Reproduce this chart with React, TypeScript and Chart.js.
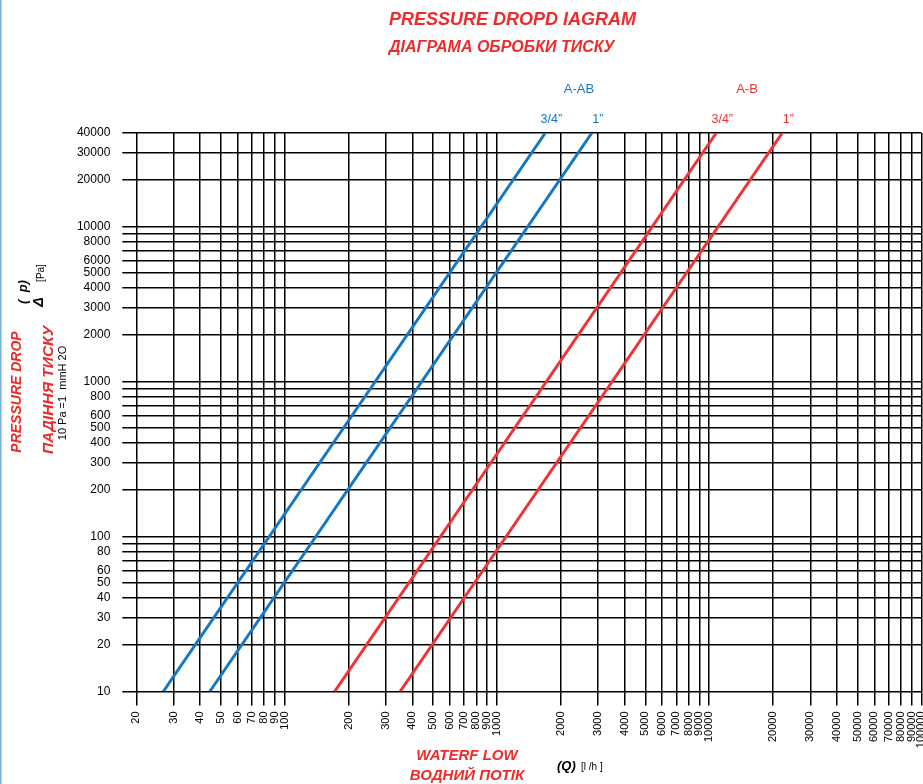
import { useEffect, useRef } from 'react';
import { Chart, registerables } from 'chart.js';

Chart.register(...registerables);

// ---- data ----
const FLOW_TICKS = [
  20, 30, 40, 50, 60, 70, 80, 90, 100,
  200, 300, 400, 500, 600, 700, 800, 900, 1000,
  2000, 3000, 4000, 5000, 6000, 7000, 8000, 9000, 10000,
  20000, 30000, 40000, 50000, 60000, 70000, 80000, 90000, 100000,
];
const DP_GRID = [
  10, 20, 30, 40, 50, 60, 70, 80, 90,
  100, 200, 300, 400, 500, 600, 700, 800, 900,
  1000, 2000, 3000, 4000, 5000, 6000, 7000, 8000, 9000,
  10000, 20000, 30000, 40000,
];
const DP_LABELS = [
  10, 20, 30, 40, 50, 60, 80,
  100, 200, 300, 400, 500, 600, 800,
  1000, 2000, 3000, 4000, 5000, 6000, 8000,
  10000, 20000, 30000, 40000,
];
const DP_ENDS = [10, 40000];
const AAB_34_Q = [26.8, 1690];
const AAB_1_Q = [44.4, 2800];
const AB_34_Q = [172, 10800];
const AB_1_Q = [350, 22100];
const CURVE_NAMES = ['3/4\u201D', '1\u201D', '3/4\u201D', '1\u201D'];
const GROUP_NAMES = ['A-AB', 'A-B'];

const BLUE = '#1677c2';
const RED = '#ee3434';
const TITLE_RED = '#ee2a2a';
const FONT = '"Liberation Sans", Arial, Helvetica, sans-serif';

function txt(
  ctx: CanvasRenderingContext2D,
  s: string,
  x: number,
  y: number,
  font: string,
  color: string,
  align: CanvasTextAlign = 'center',
  rot = 0
) {
  ctx.save();
  ctx.translate(x, y);
  if (rot) ctx.rotate(rot);
  ctx.font = font;
  ctx.fillStyle = color;
  ctx.textAlign = align;
  ctx.textBaseline = 'middle';
  ctx.fillText(s, 0, 0);
  ctx.restore();
}

const textPlugin = {
  id: 'texts',
  afterDraw(chart: any) {
    const ctx: CanvasRenderingContext2D = chart.ctx;
    const xs = chart.scales.x;
    const R = -Math.PI / 2;
    // left frame line
    ctx.save();
    ctx.fillStyle = '#7fb0e4';
    ctx.fillRect(0, 0, 1.6, chart.height);
    ctx.restore();

    // titles
    txt(ctx, 'PRESSURE DROPD IAGRAM', 389, 20, `italic bold 18px ${FONT}`, TITLE_RED, 'left');
    txt(ctx, 'ДІАГРАМА ОБРОБКИ ТИСКУ', 389, 48, `italic bold 16px ${FONT}`, TITLE_RED, 'left');

    // group labels
    txt(ctx, GROUP_NAMES[0], 579, 89, `13px ${FONT}`, BLUE);
    txt(ctx, GROUP_NAMES[1], 747, 89, `13px ${FONT}`, RED);

    // curve labels at top of each curve
    const tops = [AAB_34_Q[1], AAB_1_Q[1], AB_34_Q[1], AB_1_Q[1]];
    const cols = [BLUE, BLUE, RED, RED];
    tops.forEach((q, i) => {
      txt(ctx, CURVE_NAMES[i], xs.getPixelForValue(q) + 6, 119.5, `12.5px ${FONT}`, cols[i]);
    });

    // y-axis titles (rotated)
    txt(ctx, 'PRESSURE DROP', 17, 392, `italic bold 14px ${FONT}`, TITLE_RED, 'center', R);
    txt(ctx, 'ПАДІННЯ ТИСКУ', 49, 390, `italic bold 15.5px ${FONT}`, TITLE_RED, 'center', R);
    txt(ctx, '10 Pa =1  mmH 2O', 63, 393, `11px ${FONT}`, '#000', 'center', R);
    txt(ctx, 'Δ', 39, 302, `italic bold 14px ${FONT}`, '#000', 'center', R);
    txt(ctx, '(  p)', 23, 292, `italic bold 13px ${FONT}`, '#000', 'center', R);
    txt(ctx, '[Pa]', 41, 273, `10px ${FONT}`, '#000', 'center', R);

    // x-axis titles
    txt(ctx, 'WATERF LOW', 467, 756, `italic bold 15px ${FONT}`, TITLE_RED);
    txt(ctx, 'ВОДНИЙ ПОТІК', 467, 776, `italic bold 15px ${FONT}`, TITLE_RED);
    txt(ctx, '(Q)', 557, 766, `italic bold 13px ${FONT}`, '#000', 'left');
    txt(ctx, '[l /h ]', 581, 767, `10px ${FONT}`, '#000', 'left');
  },
};

function series(qs: number[], color: string) {
  return {
    data: qs.map((q, i) => ({ x: q, y: DP_ENDS[i] })),
    borderColor: color,
    backgroundColor: color,
    borderWidth: 3,
    pointRadius: 0,
    fill: false,
    tension: 0,
  };
}

export default function App() {
  const ref = useRef<HTMLCanvasElement>(null);

  useEffect(() => {
    const chart = new Chart(ref.current as HTMLCanvasElement, {
      type: 'line',
      data: {
        datasets: [
          series(AAB_34_Q, BLUE),
          series(AAB_1_Q, BLUE),
          series(AB_34_Q, RED),
          series(AB_1_Q, RED),
        ] as any,
      },
      options: {
        animation: false,
        responsive: false,
        maintainAspectRatio: false,
        layout: { padding: { top: 133, right: 1.6, left: 0, bottom: 0 } },
        plugins: {
          legend: { display: false },
          tooltip: { enabled: false },
          title: { display: false },
        },
        scales: {
          x: {
            type: 'logarithmic',
            min: 20,
            max: 100000,
            afterBuildTicks: (s: any) => {
              s.ticks = FLOW_TICKS.map((v) => ({ value: v }));
            },
            afterFit: (s: any) => {
              s.height = 92.5;
              s.paddingLeft = 0;
              s.paddingRight = 0;
            },
            border: { display: false },
            grid: { color: '#000', lineWidth: 1.5, tickLength: 14, drawTicks: true },
            ticks: {
              autoSkip: false,
              minRotation: 90,
              maxRotation: 90,
              padding: 6,
              color: '#000',
              font: { family: FONT, size: 11 },
              callback: (v: any) => String(v),
            },
          },
          y: {
            type: 'logarithmic',
            min: 10,
            max: 40000,
            afterBuildTicks: (s: any) => {
              s.ticks = DP_GRID.map((v) => ({ value: v }));
            },
            afterFit: (s: any) => {
              s.width = 136.3;
              s.paddingTop = 0;
              s.paddingBottom = 0;
            },
            border: { display: false },
            grid: { color: '#000', lineWidth: 1.5, tickLength: 14, drawTicks: true },
            ticks: {
              autoSkip: false,
              padding: 12,
              color: '#000',
              font: { family: FONT, size: 12 },
              callback: (v: any) => (DP_LABELS.includes(Number(v)) ? String(v) : ''),
            },
          },
        },
      } as any,
      plugins: [textPlugin],
    });
    return () => chart.destroy();
  }, []);

  return (
    <div style={{ position: 'fixed', left: 0, top: 0, width: 923, height: 784, background: '#fff' }}>
      <canvas ref={ref} width={923} height={784} style={{ display: 'block', width: 923, height: 784 }} />
    </div>
  );
}
